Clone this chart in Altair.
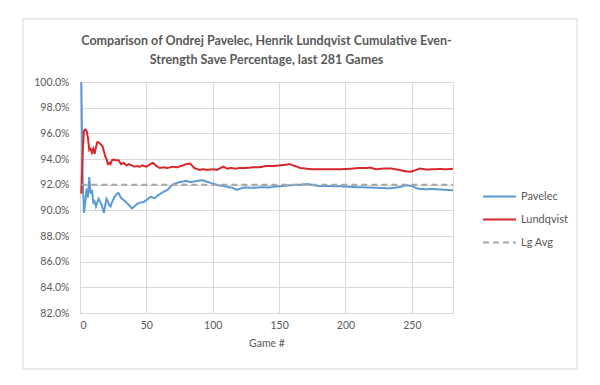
import altair as alt
import pandas as pd

# ---- data ----
lundqvist_games = [1, 2, 3, 4, 5, 6, 7, 8, 9, 10, 11, 12, 13, 14, 15, 16, 17, 18, 19, 20,
                   21, 22, 23, 24, 25, 27, 29, 31, 33, 35, 37, 39, 41, 43, 45, 47, 50, 53, 55, 57,
                   60, 63, 66, 70, 73, 76, 80, 83, 86, 90, 93, 96, 100, 103, 106, 108, 111, 114, 117, 120,
                   125, 130, 135, 140, 145, 150, 155, 158, 162, 166, 170, 175, 180, 185, 190, 195, 200, 205, 210, 215,
                   219, 223, 228, 234, 241, 245, 249, 252, 256, 261, 266, 271, 276, 281]
lundqvist_pct = [91.3, 94.5, 96.2, 96.3, 96.2, 95.6, 94.7, 94.8, 94.5, 94.8, 94.4, 94.9, 95.3, 95.3, 95.2, 95.1, 95.0, 94.6, 94.2, 94.0,
                 93.6, 93.7, 93.6, 93.9, 93.95, 93.9, 93.9, 93.6, 93.7, 93.5, 93.6, 93.5, 93.4, 93.45, 93.4, 93.5, 93.4, 93.6, 93.7, 93.5,
                 93.3, 93.35, 93.3, 93.4, 93.35, 93.45, 93.6, 93.65, 93.3, 93.15, 93.2, 93.15, 93.2, 93.15, 93.3, 93.4, 93.25, 93.3, 93.25, 93.3,
                 93.3, 93.35, 93.35, 93.45, 93.45, 93.5, 93.55, 93.6, 93.45, 93.3, 93.25, 93.2, 93.2, 93.2, 93.2, 93.2, 93.22, 93.25, 93.3, 93.3,
                 93.32, 93.2, 93.25, 93.27, 93.14, 93.05, 93.0, 93.1, 93.25, 93.18, 93.2, 93.22, 93.2, 93.24]

pavelec_games = [1, 2, 3, 4, 5, 6, 7, 8, 9, 10, 11, 12, 13, 14, 15, 16, 17, 18, 19, 20,
                 21, 22, 23, 24, 26, 28, 29, 31, 33, 35, 37, 39, 41, 43, 45, 48, 50, 53, 56, 58,
                 60, 63, 66, 69, 72, 75, 78, 80, 83, 86, 89, 92, 95, 98, 100, 104, 108, 112, 115, 118,
                 121, 124, 130, 137, 142, 147, 153, 160, 166, 172, 176, 180, 186, 192, 196, 200, 205, 211, 218, 225,
                 230, 234, 240, 246, 250, 253, 256, 261, 266, 272, 276, 281]
pavelec_pct = [100.0, 92.5, 89.8, 90.6, 91.7, 91.0, 92.6, 91.3, 91.6, 90.6, 90.7, 90.3, 90.6, 90.9, 90.7, 90.5, 90.2, 89.8, 90.4, 90.9,
               90.7, 90.4, 90.3, 90.6, 91.05, 91.3, 91.35, 90.95, 90.8, 90.6, 90.4, 90.15, 90.3, 90.5, 90.6, 90.65, 90.8, 91.05, 90.95, 91.1,
               91.25, 91.45, 91.6, 91.95, 92.1, 92.2, 92.25, 92.3, 92.2, 92.25, 92.3, 92.35, 92.25, 92.15, 92.1, 91.95, 91.9, 91.8, 91.75, 91.6,
               91.7, 91.78, 91.75, 91.8, 91.78, 91.85, 91.9, 91.97, 92.0, 92.05, 91.95, 91.9, 91.9, 91.88, 91.88, 91.85, 91.82, 91.8, 91.78, 91.75,
               91.73, 91.72, 91.8, 91.95, 91.9, 91.75, 91.66, 91.65, 91.66, 91.62, 91.6, 91.56]

lg_avg_games = [1, 281]
lg_avg_pct = [92.0, 92.0]

series_names = ["Pavelec", "Lundqvist", "Lg Avg"]
series_colors = ["#5B9BD5", "#D9262B", "#A5A5A5"]

y_ticks = [0.82, 0.84, 0.86, 0.88, 0.90, 0.92, 0.94, 0.96, 0.98, 1.00]
x_ticks = [0, 50, 100, 150, 200, 250]

rows = []
for g, v in zip(pavelec_games, pavelec_pct):
    rows.append({"game": g, "pct": v / 100, "series": "Pavelec"})
for g, v in zip(lundqvist_games, lundqvist_pct):
    rows.append({"game": g, "pct": v / 100, "series": "Lundqvist"})
for g, v in zip(lg_avg_games, lg_avg_pct):
    rows.append({"game": g, "pct": v / 100, "series": "Lg Avg"})
df = pd.DataFrame(rows)

FONT = "Lato"
GRAY = "#595959"

frame = alt.Chart(pd.DataFrame({"a": [0]})).mark_rect(
    fillOpacity=0, stroke="#D9D9D9", strokeWidth=1
).encode(
    x=alt.value(-57), x2=alt.value(497), y=alt.value(-63), y2=alt.value(287)
)

lines = alt.Chart(df).mark_line(strokeWidth=2).encode(
    x=alt.X("game:Q", title="Game #",
            scale=alt.Scale(domain=[0, 281], nice=False, zero=False),
            axis=alt.Axis(values=x_ticks, grid=True, gridColor="#D9D9D9", ticks=False,
                          domain=True, domainColor="#D9D9D9", labelColor=GRAY,
                          labelFont=FONT, labelFontSize=10.5, labelPadding=7,
                          titleColor=GRAY, titleFont=FONT, titleFontSize=10.5,
                          titleFontWeight="normal", titlePadding=8)),
    y=alt.Y("pct:Q", title=None,
            scale=alt.Scale(domain=[0.82, 1.0], nice=False, zero=False),
            axis=alt.Axis(values=y_ticks, format=".1%", grid=True, gridColor="#D9D9D9",
                          ticks=False, domain=False, labelColor=GRAY, labelFont=FONT,
                          labelFontSize=10.5, labelPadding=11)),
    color=alt.Color("series:N", title=None,
                    scale=alt.Scale(domain=series_names, range=series_colors),
                    legend=alt.Legend(orient="none", legendX=402, legendY=97,
                                      symbolType="stroke", symbolSize=1089,
                                      symbolStrokeWidth=2, labelFont=FONT,
                                      labelFontSize=11, labelColor=GRAY,
                                      labelOffset=4, rowPadding=-12)),
    strokeDash=alt.StrokeDash("series:N", title=None,
                              scale=alt.Scale(domain=series_names,
                                              range=[[1, 0], [1, 0], [6, 4]])),
    detail="series:N",
)

chart = alt.layer(frame, lines).properties(
    width=373, height=231,
    padding={"left": 72, "top": 74, "right": 139, "bottom": 60},
    autosize=alt.AutoSizeParams(type="none"),
    title=alt.TitleParams(
        ["Comparison of Ondrej Pavelec, Henrik Lundqvist Cumulative Even-",
         "Strength Save Percentage, last 281 Games"],
        anchor="middle", font=FONT, fontSize=12.5, fontWeight="bold",
        color=GRAY, offset=-48, lineHeight=19),
).configure_view(stroke=None).configure(background="white")

chart.save("out.html", embed_options={"renderer": "svg", "actions": False})
